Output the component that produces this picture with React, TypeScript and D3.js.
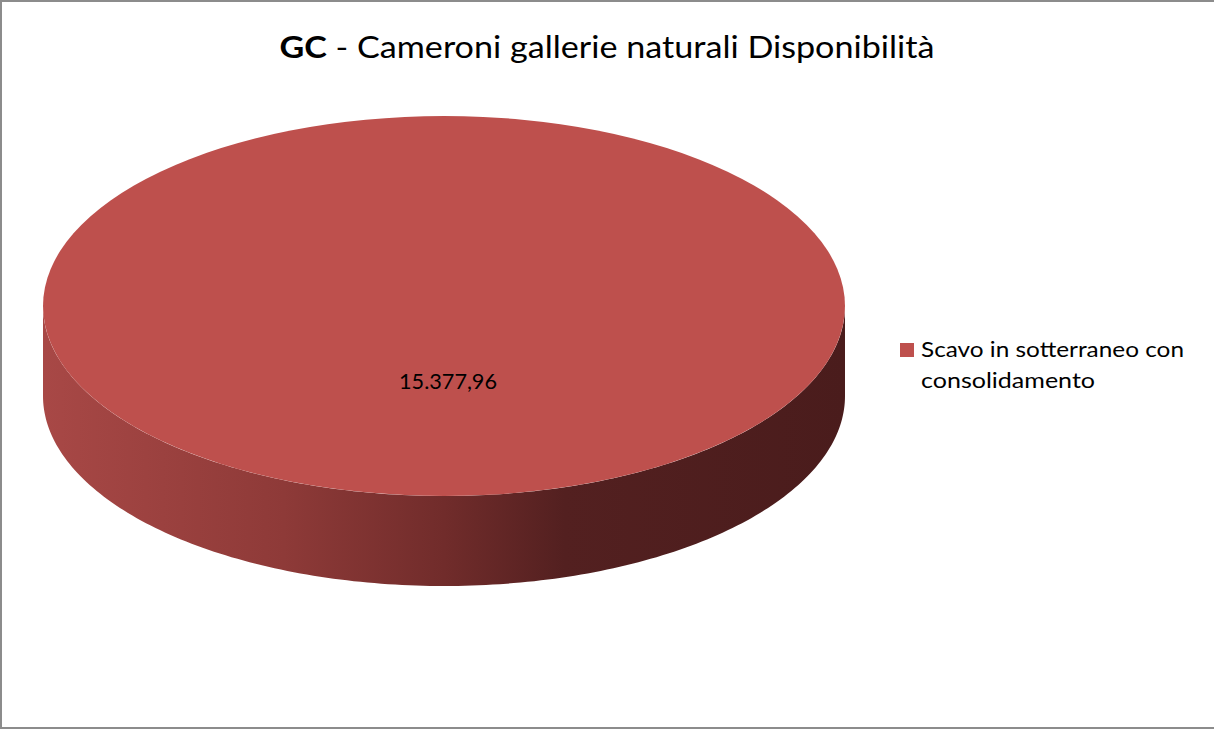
import { useRef, useEffect } from 'react'
import * as d3 from 'd3'

const categories = ['Scavo in sotterraneo con consolidamento']
const values = [15377.96]
const labels = ['15.377,96']
const legendLines = ['Scavo in sotterraneo con', 'consolidamento']
const titleBold = 'GC'
const titleRest = ' - Cameroni gallerie naturali Disponibilità'
const colors = ['#be504d']

const W = 1214
const H = 729

const App = () => {
  const ref = useRef<SVGSVGElement>(null)

  useEffect(() => {
    const svg = d3.select(ref.current as SVGSVGElement)
    svg.selectAll('*').remove()

    const cx = 444
    const cy = 306
    const rx = 401
    const ry = 190
    const depth = 90
    const font = 'Lato, "Open Sans", sans-serif'

    svg.append('rect').attr('width', W).attr('height', H).attr('fill', '#fff')
    // frame (right edge falls outside the picture)
    svg.append('path')
      .attr('d', `M${W + 5},1 H1 V${H - 1} H${W + 5}`)
      .attr('fill', 'none')
      .attr('stroke', '#8c8c8c')
      .attr('stroke-width', 2)

    const defs = svg.append('defs')
    const grad = defs.append('linearGradient')
      .attr('id', 'side')
      .attr('gradientUnits', 'userSpaceOnUse')
      .attr('x1', cx - rx).attr('x2', cx + rx).attr('y1', 0).attr('y2', 0)
    const stops: [number, string][] = [
      [0, '#a84846'], [0.3, '#8e3a38'], [0.5, '#712c2b'], [0.65, '#532020'], [1, '#4a1c1c'],
    ]
    stops.forEach(([o, c]) => grad.append('stop').attr('offset', o).attr('stop-color', c))

    const pie = d3.pie<number>().sort(null).value((d) => d)
    const arcs = pie(values)

    // side of the disc: front half between the two ellipses
    const ang = d3.range(0, 181).map((d) => (d * Math.PI) / 180)
    const pt = (a: number, dy: number) => [cx + rx * Math.cos(a), cy + dy + ry * Math.sin(a)]
    const lower = ang.map((a) => pt(a, depth))
    const upper = ang.slice().reverse().map((a) => pt(a, 0))
    const line = d3.line()
    svg.append('path')
      .attr('d', line([...lower, ...upper] as [number, number][]) + 'Z')
      .attr('fill', 'url(#side)')

    const arc = d3.arc<d3.PieArcDatum<number>>().innerRadius(0).outerRadius(rx)
    const top = svg.append('g').attr('transform', `translate(${cx},${cy}) scale(1,${ry / rx})`)
    top.selectAll('path')
      .data(arcs)
      .join('path')
      .attr('d', arc)
      .attr('fill', (_, i) => colors[i])

    svg.selectAll('text.lbl')
      .data(arcs)
      .join('text')
      .attr('class', 'lbl')
      .attr('x', cx + 4)
      .attr('y', 389)
      .attr('text-anchor', 'middle')
      .attr('font-family', font)
      .attr('font-size', 21)
      .attr('fill', '#000')
      .attr('textLength', 98)
      .attr('lengthAdjust', 'spacingAndGlyphs')
      .text((_, i) => labels[i])

    const title = svg.append('text')
      .attr('x', 607)
      .attr('y', 58)
      .attr('text-anchor', 'middle')
      .attr('font-family', font)
      .attr('font-size', 31)
      .attr('fill', '#000')
      .attr('textLength', 655)
      .attr('lengthAdjust', 'spacingAndGlyphs')
    title.append('tspan').attr('font-weight', 'bold').text(titleBold)
    title.append('tspan').text(titleRest)

    const legend = svg.append('g').attr('transform', 'translate(900,343)')
    legend.selectAll('rect')
      .data(categories)
      .join('rect')
      .attr('width', 14)
      .attr('height', 14)
      .attr('fill', (_, i) => colors[i])
    legend.selectAll('text')
      .data(legendLines)
      .join('text')
      .attr('x', 21)
      .attr('y', (_, i) => 14 + i * 31)
      .attr('font-family', font)
      .attr('font-size', 22)
      .attr('fill', '#000')
      .attr('textLength', (_, i) => (i === 0 ? 263 : 174))
      .attr('lengthAdjust', 'spacingAndGlyphs')
      .text((d) => d)
  }, [])

  return (
    <svg
      ref={ref}
      width={W}
      height={H}
      style={{ position: 'absolute', left: 0, top: 0 }}
    />
  )
}

export default App
